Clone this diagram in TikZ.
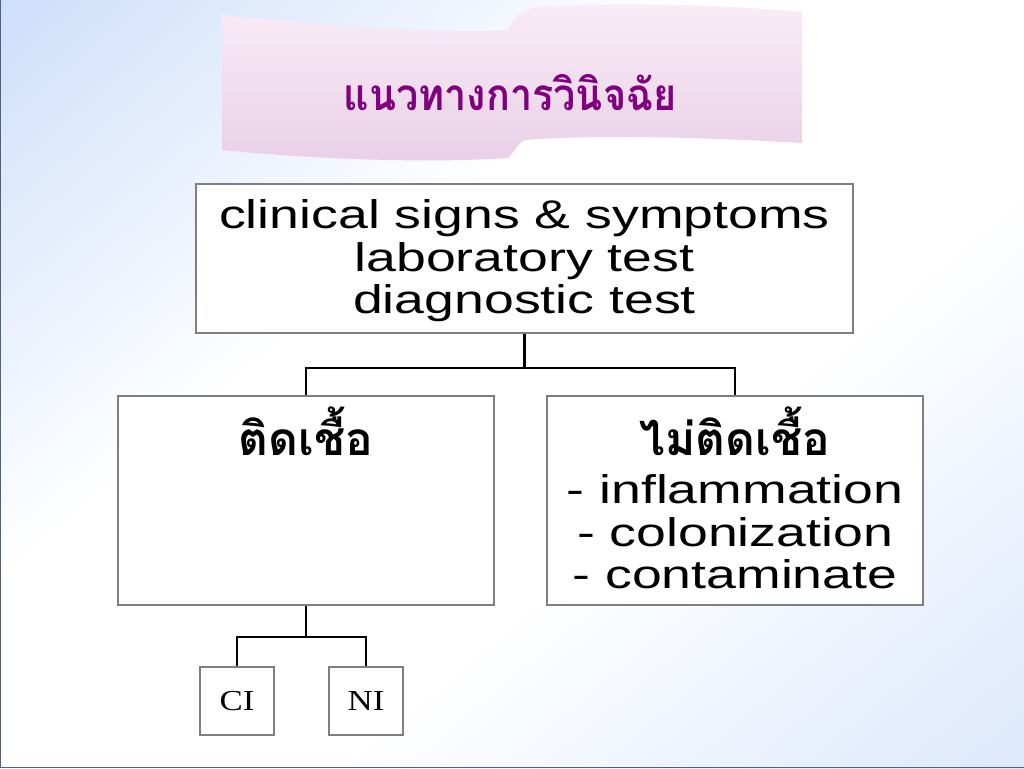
\documentclass[tikz,border=0pt]{standalone}
\usepackage{fontspec}
\setmainfont{Liberation Sans}
\newfontfamily\thaifont[Script=Thai]{Loma}
\newfontfamily\thaititle[Script=Thai,FakeStretch=0.9]{Loma}
\newfontfamily\widesans[FakeStretch=1.34]{Liberation Sans}
\newfontfamily\serifface[FakeStretch=1.2]{Liberation Serif}
\definecolor{bgblue}{HTML}{C8DBFA}
\definecolor{edgeline}{HTML}{4E6278}
\definecolor{boxgray}{HTML}{7F7F7F}
\definecolor{bannertop}{HTML}{F8EDF6}
\definecolor{bannerbot}{HTML}{EACFE7}
\definecolor{titlepurple}{HTML}{800080}
\pgfdeclarehorizontalshading{bgsh}{100bp}{color(0bp)=(bgblue); color(14bp)=(bgblue!92!white); color(40bp)=(white); color(60bp)=(white); color(100bp)=(bgblue)}
\tikzset{
  box/.style={draw=boxgray, line width=2.2pt, fill=white, inner sep=0pt},
  link/.style={draw=black, line width=2.6pt},
  bigtext/.style={font=\widesans\fontsize{40}{42.5}\selectfont, align=center, text=black},
  thaihead/.style={font=\thaifont\bfseries\fontsize{46}{50}\selectfont, text=black},
  smallbox/.style={box, minimum width=74pt, minimum height=68pt, font=\serifface\fontsize{29}{30}\selectfont}
}
\begin{document}
\begin{tikzpicture}[x=1pt,y=-1pt]
\useasboundingbox (0,0) rectangle (1024,768);
\shade[shading=bgsh, shading angle=-50] (0,0) rectangle (1024,768);
\draw[edgeline, line width=1.2pt] (0.6,0) -- (0.6,767.4) -- (1024,767.4);
% banner
\shade[top color=bannertop, bottom color=bannerbot]
  (222,15) .. controls (330,26) and (440,34) .. (508,30)
  .. controls (514,14) and (524,8) .. (545,6)
  .. controls (640,2) and (740,6) .. (802,12)
  -- (802,143)
  .. controls (720,138) and (600,134) .. (525,140)
  .. controls (515,146) and (513,154) .. (508,158)
  .. controls (420,164) and (300,158) .. (222,150) -- cycle;
\node[font=\thaititle\bfseries\fontsize{44}{48}\selectfont, text=titlepurple] (title) at (510,93) {แนวทางการวินิจฉัย};
% top box
\node[box, minimum width=657pt, minimum height=149pt] (top) at (524.5,258.5) {};
\node[bigtext] (toptext) at (524.5,261) {clinical signs \& symptoms\\laboratory test\\diagnostic test};
% middle boxes
\node[box, minimum width=376pt, minimum height=209pt] (inf) at (306,500.5) {};
\node[box, minimum width=376pt, minimum height=209pt] (noinf) at (735,500.5) {};
\node[thaihead] (inflabel) at (306,431) {ติดเชื้อ};
\node[thaihead] (noinflabel) at (735,431) {ไม่ติดเชื้อ};
\node[bigtext] (noinftext) at (735,532) {- inflammation\\- colonization\\- contaminate};
% small boxes
\node[smallbox] (ci) at (237,701) {CI};
\node[smallbox] (ni) at (366,701) {NI};
% connectors
\coordinate (j1) at (524.5,368);
\draw[link] (top.south) -- (j1);
\draw[link] (inf.north) |- (j1) -| (noinf.north);
\coordinate (j2) at (306,637);
\draw[link] (inf.south) -- (j2);
\draw[link] (ci.north) |- (j2) -| (ni.north);
\end{tikzpicture}
\end{document}
